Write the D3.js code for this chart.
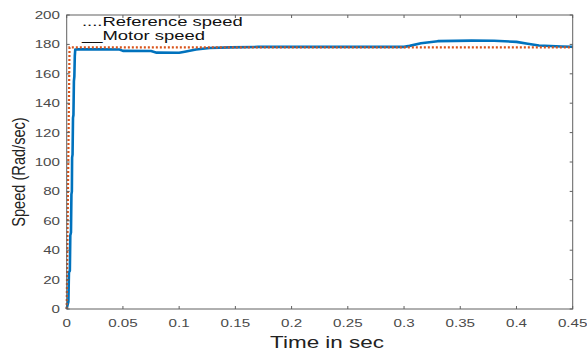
<!DOCTYPE html>
<html><head><meta charset="utf-8">
<script src="https://cdn.jsdelivr.net/npm/d3@7"></script>
<style>body{margin:0;background:#fff;}svg{display:block;font-family:"Liberation Sans",Arial,sans-serif;}</style>
</head><body><svg id="c" width="587" height="351"></svg>
<script>
// Data
const xTicks = [0, 0.05, 0.1, 0.15, 0.2, 0.25, 0.3, 0.35, 0.4, 0.45];
const xTickLabels = ["0", "0.05", "0.1", "0.15", "0.2", "0.25", "0.3", "0.35", "0.4", "0.45"];
const yTicks = [0, 20, 40, 60, 80, 100, 120, 140, 160, 180, 200];
const refTime = [0, 0.0025, 0.45];
const refSpeed = [0, 178, 178];
const motorTime = [0, 0.0005, 0.0015, 0.002, 0.0028, 0.0032, 0.0038, 0.0042, 0.0046, 0.0048, 0.0052, 0.0056, 0.006, 0.0064, 0.0068, 0.0072, 0.0076,
  0.01, 0.03, 0.047, 0.05, 0.075, 0.08, 0.1, 0.105, 0.115, 0.127, 0.145, 0.17, 0.2, 0.25, 0.3,
  0.305, 0.315, 0.33, 0.36, 0.38, 0.4, 0.41, 0.42, 0.44, 0.45];
const motorSpeed = [0, 2, 5, 25, 26, 50, 52, 78, 80, 103, 105, 130, 132, 155, 158, 172, 176.5,
  176.7, 176.6, 176.5, 175.6, 175.5, 174.4, 174.3, 175, 176.5, 177.5, 178, 178.3, 178.3, 178.3, 178.3,
  179, 180.8, 182.2, 182.6, 182.5, 181.7, 180.5, 179.3, 178.6, 178.4];
const legendLabels = ["....Reference speed", "__Motor speed"];
const xLabel = "Time in sec";
const yLabel = "Speed (Rad/sec)";

const svg = d3.select("#c");
const L = 66.7, R = 572.7, T = 15, B = 309;
const SX = 1.32; // horizontal stretch of the original picture
const x = d3.scaleLinear().domain([0, 0.45]).range([L, R]);
const y = d3.scaleLinear().domain([0, 200]).range([B, T]);
const axisColor = "#606060", tickText = "#4a4a4a";

function txt(g, tx, ty, s, size, anchor, color, rot, sx) {
  const k = sx || SX;
  const t = g.append("text").text(s)
    .attr("font-size", size).attr("fill", color).attr("text-anchor", anchor);
  if (rot) t.attr("transform", `translate(${tx},${ty}) rotate(-90) scale(1,${k})`);
  else t.attr("transform", `translate(${tx},${ty}) scale(${k},1)`);
  return t;
}

// Lines
const motorData = motorTime.map((t, i) => [t, motorSpeed[i]]);
const refData = refTime.map((t, i) => [t, refSpeed[i]]);
const line = d3.line().x(d => x(d[0])).y(d => y(d[1]));
svg.append("path").datum(motorData).attr("d", line)
  .attr("fill", "none").attr("stroke", "#0072BD").attr("stroke-width", 2.6).attr("stroke-linejoin", "round");
svg.append("path").datum(refData).attr("d", line)
  .attr("fill", "none").attr("stroke", "#D95319").attr("stroke-width", 2.2).attr("stroke-dasharray", "2,2");

// Axes (box with inward ticks)
const ax = svg.append("g").attr("stroke", axisColor).attr("stroke-width", 1).attr("fill", "none");
ax.append("rect").attr("x", L).attr("y", T).attr("width", R - L).attr("height", B - T);
xTicks.forEach(v => {
  ax.append("line").attr("x1", x(v)).attr("x2", x(v)).attr("y1", B).attr("y2", B - 3);
  ax.append("line").attr("x1", x(v)).attr("x2", x(v)).attr("y1", T).attr("y2", T + 3);
});
yTicks.forEach(v => {
  ax.append("line").attr("x1", L).attr("x2", L + 3).attr("y1", y(v)).attr("y2", y(v));
  ax.append("line").attr("x1", R).attr("x2", R - 3).attr("y1", y(v)).attr("y2", y(v));
});

const tg = svg.append("g");
xTicks.forEach((v, i) => txt(tg, x(v), 326.5, xTickLabels[i], 11.5, "middle", tickText));
yTicks.forEach(v => txt(tg, 60, y(v) + 4, String(v), 11.5, "end", tickText));

// Axis labels
txt(svg, 327, 348, xLabel, 17, "middle", "#222");
txt(svg, 25, 172, yLabel, 14.6, "middle", "#222", true);

// Legend (text only)
txt(svg, 82, 25.8, legendLabels[0], 12.3, "start", "#111", false, 1.5);
txt(svg, 82, 39.6, legendLabels[1], 12.3, "start", "#111", false, 1.5);
</script></body></html>
